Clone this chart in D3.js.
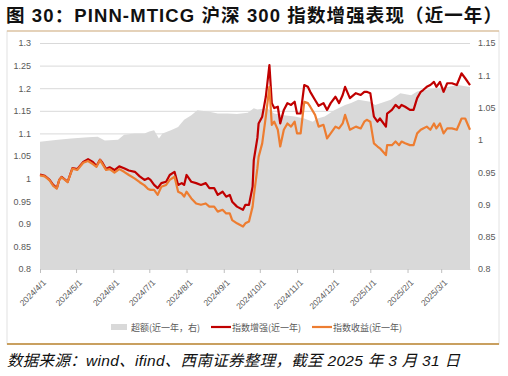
<!DOCTYPE html>
<html>
<head>
<meta charset="utf-8">
<script src="https://cdn.jsdelivr.net/npm/d3@7"></script>
<style>
  body { margin: 0; background: #fff; }
  svg { display: block; }
</style>
</head>
<body>
<div id="chart"></div>
<script>
// dates for the two index lines
const lineDates = [
  "2024-04-01","2024-04-05","2024-04-09","2024-04-12","2024-04-15","2024-04-17","2024-04-19","2024-04-24","2024-04-28","2024-05-02","2024-05-07","2024-05-11","2024-05-15","2024-05-18","2024-05-21","2024-05-23","2024-05-26","2024-05-29","2024-06-02","2024-06-06","2024-06-10","2024-06-14","2024-06-19","2024-06-23","2024-06-27","2024-06-30",
  "2024-07-02","2024-07-05","2024-07-08","2024-07-11","2024-07-15","2024-07-18","2024-07-22","2024-07-25","2024-07-28","2024-07-30",
  "2024-08-01","2024-08-05","2024-08-09","2024-08-13","2024-08-17","2024-08-20","2024-08-24","2024-08-27","2024-08-31",
  "2024-09-03","2024-09-06","2024-09-08","2024-09-12","2024-09-17","2024-09-19","2024-09-22","2024-09-25","2024-09-26","2024-09-29","2024-09-30",
  "2024-10-03","2024-10-06","2024-10-09","2024-10-11","2024-10-13","2024-10-16","2024-10-18","2024-10-21","2024-10-24","2024-10-27","2024-10-30",
  "2024-11-01","2024-11-04","2024-11-07","2024-11-10","2024-11-12","2024-11-16","2024-11-19","2024-11-23","2024-11-26","2024-11-29",
  "2024-12-03","2024-12-06","2024-12-09","2024-12-11","2024-12-15","2024-12-20","2024-12-24","2024-12-27","2024-12-29",
  "2025-01-01","2025-01-04","2025-01-07","2025-01-09","2025-01-14","2025-01-15","2025-01-19","2025-01-22","2025-01-25","2025-01-27","2025-01-30",
  "2025-02-03","2025-02-06","2025-02-09","2025-02-12","2025-02-14","2025-02-17","2025-02-20","2025-02-23","2025-02-25","2025-02-28",
  "2025-03-03","2025-03-06","2025-03-10","2025-03-14","2025-03-18","2025-03-21","2025-03-25"
];

// 指数增强(近一年), left axis
const enhanced = [
  1.009,1.006,0.997,0.986,0.979,0.997,1.004,0.993,1.023,1.021,1.037,1.043,1.037,1.028,1.042,1.035,1.021,1.025,1.019,1.027,1.023,1.018,1.015,1.005,0.997,1.001,
  0.997,0.986,0.979,0.990,0.993,1.008,1.015,0.986,0.990,0.986,
  1.008,0.993,0.990,0.986,0.990,0.979,0.979,0.964,0.971,
  0.960,0.964,0.949,0.938,0.931,0.942,0.942,0.982,1.041,1.090,1.122,
  1.137,1.181,1.251,1.167,1.156,1.159,1.122,1.152,1.167,1.163,1.170,
  1.144,1.144,1.207,1.203,1.192,1.174,1.161,1.167,1.152,1.167,
  1.181,1.167,1.185,1.203,1.178,1.189,1.185,1.192,1.192,
  1.189,1.137,1.126,1.133,1.115,1.144,1.152,1.163,1.156,1.163,1.159,
  1.152,1.152,1.178,1.192,1.196,1.203,1.207,1.214,1.203,1.214,
  1.192,1.211,1.211,1.207,1.233,1.222,1.207
];

// 指数收益(近一年), left axis
const indexRet = [
  1.007,1.005,0.996,0.984,0.978,0.997,1.003,0.992,1.022,1.019,1.035,1.039,1.032,1.026,1.041,1.032,1.019,1.021,1.013,1.021,1.015,1.008,1.000,0.992,0.985,0.977,
  0.975,0.975,0.964,0.982,0.986,0.997,1.004,0.971,0.967,0.960,
  0.971,0.956,0.945,0.942,0.945,0.938,0.938,0.927,0.931,
  0.923,0.923,0.908,0.901,0.894,0.901,0.905,0.938,0.962,1.023,1.048,
  1.078,1.137,1.203,1.119,1.126,1.108,1.071,1.108,1.122,1.115,1.126,
  1.100,1.100,1.170,1.167,1.159,1.141,1.115,1.119,1.089,1.100,
  1.115,1.111,1.122,1.141,1.108,1.115,1.111,1.126,1.130,
  1.126,1.078,1.071,1.067,1.052,1.074,1.074,1.082,1.074,1.082,1.078,
  1.074,1.074,1.100,1.108,1.111,1.115,1.108,1.122,1.111,1.122,
  1.100,1.111,1.111,1.108,1.133,1.133,1.108
];

// 超额(近一年，右), right axis
const excessDates = [
  "2024-04-01","2024-04-16","2024-04-27","2024-05-11","2024-05-19","2024-05-25","2024-06-05","2024-06-10","2024-06-19","2024-06-27",
  "2024-07-01","2024-07-05","2024-07-09","2024-07-12","2024-07-19","2024-07-25","2024-07-30","2024-08-05","2024-08-10","2024-08-19","2024-08-27",
  "2024-09-04","2024-09-12","2024-09-21","2024-09-26","2024-09-29","2024-10-07","2024-10-13","2024-10-21","2024-10-30",
  "2024-11-07","2024-11-14","2024-11-18","2024-11-24","2024-12-02","2024-12-11","2024-12-16","2024-12-22",
  "2025-01-01","2025-01-05","2025-01-10","2025-01-18","2025-01-26","2025-02-04","2025-02-09","2025-02-15","2025-02-23",
  "2025-03-06","2025-03-15","2025-03-25"
];
const excess = [
  0.997,1.000,1.002,1.004,1.005,0.999,1.000,1.008,1.010,1.010,
  1.013,1.015,1.002,1.010,1.015,1.020,1.031,1.038,1.046,1.044,1.041,
  1.041,1.040,1.042,1.049,1.047,1.049,1.041,1.038,1.036,
  1.033,1.028,1.033,1.036,1.046,1.054,1.057,1.062,
  1.059,1.054,1.057,1.062,1.072,1.069,1.075,1.077,1.080,
  1.082,1.085,1.082
];

const leftTicks = [0.8,0.85,0.9,0.95,1,1.05,1.1,1.15,1.2,1.25,1.3];
const rightTicks = [0.8,0.85,0.9,0.95,1,1.05,1.1,1.15];
const monthTicks = ["2024-04-01","2024-05-01","2024-06-01","2024-07-01","2024-08-01","2024-09-01","2024-10-01","2024-11-01","2024-12-01","2025-01-01","2025-02-01","2025-03-01"];

const seriesNames = ["超额(近一年，右)", "指数增强(近一年)", "指数收益(近一年)"];
const title = "图 30：PINN-MTICG 沪深 300 指数增强表现（近一年）";
const source = "数据来源：wind、ifind、西南证券整理，截至 2025 年 3 月 31 日";

const W = 508, H = 376;
const plot = {left: 40, right: 470, top: 43, bottom: 269};
const parse = d3.timeParse("%Y-%m-%d");
const fmt = d3.timeFormat("%Y/%-m/%-d");
const tickFont = "'Liberation Sans', Arial, sans-serif";
const cjkFont = "'Liberation Sans', 'Noto Sans CJK SC', sans-serif";

const svg = d3.select("#chart").append("svg")
    .attr("width", W)
    .attr("height", H);

// title
svg.append("text")
    .attr("x", 6)
    .attr("y", 22)
    .attr("font-family", cjkFont)
    .attr("font-weight", "bold")
    .attr("font-size", 18.5)
    .attr("fill", "#111")
    .attr("textLength", 496)
    .attr("lengthAdjust", "spacing")
    .text(title);

// frame
svg.append("rect")
    .attr("x", 7).attr("y", 31)
    .attr("width", 492).attr("height", 313)
    .attr("fill", "none")
    .attr("stroke", "#e2e2e2");
svg.append("line")
    .attr("x1", 7).attr("x2", 499).attr("y1", 31).attr("y2", 31)
    .attr("stroke", "#d9b382").attr("stroke-width", 1);
svg.append("line")
    .attr("x1", 7).attr("x2", 499).attr("y1", 344).attr("y2", 344)
    .attr("stroke", "#c9a060").attr("stroke-width", 2);

const x = d3.scaleTime()
    .domain([parse("2024-04-01"), parse("2025-03-25")])
    .range([plot.left, plot.right]);
const yL = d3.scaleLinear().domain([0.8, 1.3]).range([plot.bottom, plot.top]);
const yR = d3.scaleLinear().domain([0.8, 1.15]).range([plot.bottom, plot.top]);

// gridlines
const grid = svg.append("g")
    .attr("transform", `translate(${plot.left},0)`)
    .call(d3.axisLeft(yL).tickValues(leftTicks).tickSize(-(plot.right - plot.left)).tickFormat(""));
grid.select(".domain").remove();
grid.selectAll("line").attr("stroke", "#d9d9d9").attr("stroke-width", 1);

// excess area
const areaData = excessDates.map((d, i) => ({date: parse(d), v: excess[i]}));
svg.append("path")
    .datum(areaData)
    .attr("fill", "#d9d9d9")
    .attr("d", d3.area()
        .x(d => x(d.date))
        .y0(yR(0.8))
        .y1(d => yR(d.v)));

// lines
const lineData = lineDates.map((d, i) => ({date: parse(d), a: enhanced[i], b: indexRet[i]}));
svg.append("path")
    .datum(lineData)
    .attr("fill", "none")
    .attr("stroke", "#c00000")
    .attr("stroke-width", 2.2)
    .attr("stroke-linejoin", "round")
    .attr("d", d3.line().x(d => x(d.date)).y(d => yL(d.a)));
svg.append("path")
    .datum(lineData)
    .attr("fill", "none")
    .attr("stroke", "#ed7d31")
    .attr("stroke-width", 2.2)
    .attr("stroke-linejoin", "round")
    .attr("d", d3.line().x(d => x(d.date)).y(d => yL(d.b)));

// left axis
const axL = svg.append("g")
    .attr("transform", `translate(${plot.left},0)`)
    .call(d3.axisLeft(yL).tickValues(leftTicks).tickSize(0).tickPadding(9).tickFormat(d => String(+d.toFixed(2))));
axL.select(".domain").remove();
axL.selectAll("text").attr("font-family", tickFont).attr("font-size", 9).attr("fill", "#595959");

// right axis
const axR = svg.append("g")
    .attr("transform", `translate(${plot.right},0)`)
    .call(d3.axisRight(yR).tickValues(rightTicks).tickSize(0).tickPadding(8).tickFormat(d => String(+d.toFixed(2))));
axR.select(".domain").remove();
axR.selectAll("text").attr("font-family", tickFont).attr("font-size", 9).attr("fill", "#595959");

// bottom axis
const axB = svg.append("g")
    .attr("transform", `translate(0,${plot.bottom})`)
    .call(d3.axisBottom(x).tickValues(monthTicks.map(parse)).tickSize(4).tickSizeOuter(0).tickFormat(fmt));
axB.select(".domain").attr("stroke", "#d9d9d9");
axB.selectAll("line").attr("stroke", "#bfbfbf");
axB.selectAll("text")
    .attr("font-family", tickFont)
    .attr("font-size", 8.5)
    .attr("fill", "#595959")
    .attr("text-anchor", "end")
    .attr("transform", "translate(4,12) rotate(-45)")
    .attr("dx", 0).attr("dy", "0.35em").attr("y", 0);

// legend
const legend = svg.append("g").attr("font-family", "'Noto Sans CJK SC', sans-serif").attr("font-size", 9).attr("fill", "#595959");
const legX = [111, 211, 312];
legend.append("rect").attr("x", legX[0]).attr("y", 324).attr("width", 16).attr("height", 6).attr("fill", "#d9d9d9");
legend.append("line").attr("x1", legX[1]).attr("x2", legX[1] + 20).attr("y1", 327).attr("y2", 327).attr("stroke", "#c00000").attr("stroke-width", 2.2);
legend.append("line").attr("x1", legX[2]).attr("x2", legX[2] + 20).attr("y1", 327).attr("y2", 327).attr("stroke", "#ed7d31").attr("stroke-width", 2.2);
seriesNames.forEach((s, i) => {
    legend.append("text")
        .attr("x", legX[i] + (i === 0 ? 20 : 21))
        .attr("y", 330.5)
        .text(s);
});

// source note
svg.append("text")
    .attr("x", 7)
    .attr("y", 366)
    .attr("font-family", cjkFont)
    .attr("font-style", "italic")
    .attr("font-size", 15.5)
    .attr("fill", "#111")
    .attr("textLength", 453)
    .attr("lengthAdjust", "spacing")
    .text(source);
</script>
</body>
</html>
